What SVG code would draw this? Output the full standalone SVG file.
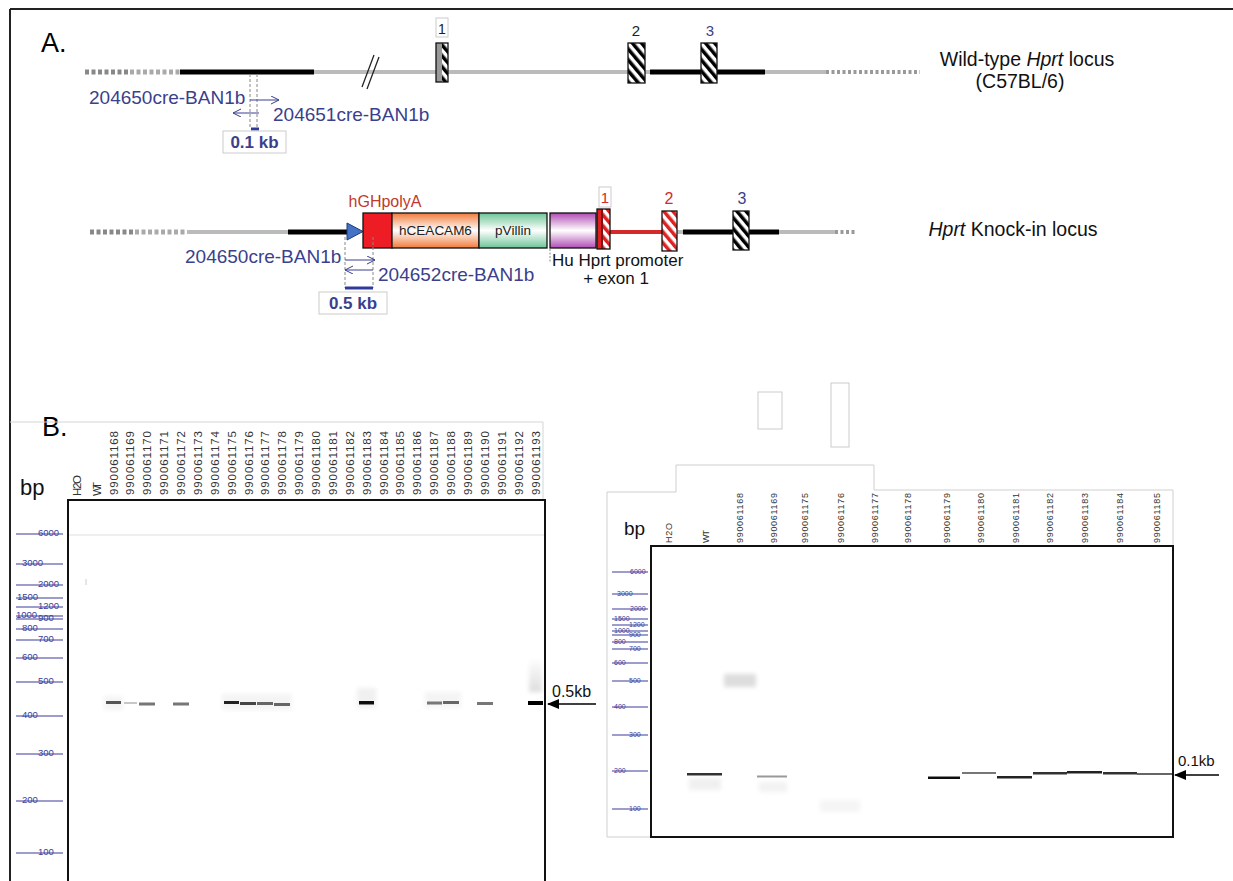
<svg xmlns="http://www.w3.org/2000/svg" width="1233" height="881" viewBox="0 0 1233 881">
<defs>
<style>
text{font-family:"Liberation Sans",Arial,sans-serif}
.navy{fill:#3b3f8c}
.primer{font-size:19px;fill:#3b3f8c}
.kb{font-size:17px;font-weight:bold;fill:#3b3f8c}
.lad{stroke:#3a3d9a;stroke-width:1.2}
.ladt{font-size:9.5px;fill:#3a3d9a}
.ladr{font-size:7px;fill:#3a3d9a}
.lane{font-size:11.5px;fill:#333}
.laner{font-size:9px;fill:#333}
.pa{stroke:#3b3f8c;stroke-width:1;fill:none}
.vd{stroke:#888;stroke-width:1;stroke-dasharray:3,2;fill:none}
.bx{stroke:#111;stroke-width:1.3}
.lblbox{fill:#fff;stroke:#ccc;stroke-width:1}
</style>
<pattern id="hk" width="7" height="7" patternUnits="userSpaceOnUse" patternTransform="rotate(-40)"><rect width="7" height="7" fill="#fff"/><rect width="3.5" height="7" fill="#000"/></pattern>
<pattern id="hr" width="7" height="7" patternUnits="userSpaceOnUse" patternTransform="rotate(-40)"><rect width="7" height="7" fill="#fff"/><rect width="3.5" height="7" fill="#e02020"/></pattern>
<linearGradient id="gO" x1="0" y1="0" x2="0" y2="1"><stop offset="0" stop-color="#f07a3a"/><stop offset="0.5" stop-color="#fff"/><stop offset="1" stop-color="#f07a3a"/></linearGradient>
<linearGradient id="gG" x1="0" y1="0" x2="0" y2="1"><stop offset="0" stop-color="#6cc496"/><stop offset="0.5" stop-color="#fff"/><stop offset="1" stop-color="#6cc496"/></linearGradient>
<linearGradient id="gP" x1="0" y1="0" x2="0" y2="1"><stop offset="0" stop-color="#b04cb4"/><stop offset="0.5" stop-color="#fff"/><stop offset="1" stop-color="#b04cb4"/></linearGradient>
<linearGradient id="gS" x1="0" y1="0" x2="0" y2="1"><stop offset="0" stop-color="#fff"/><stop offset="1" stop-color="#ddd"/></linearGradient>
<filter id="bl" x="-20%" y="-100%" width="140%" height="300%"><feGaussianBlur stdDeviation="0.6"/></filter>
<filter id="bl2" x="-30%" y="-50%" width="160%" height="200%"><feGaussianBlur stdDeviation="2"/></filter>
<marker id="ch" markerWidth="9" markerHeight="9" refX="8" refY="4" orient="auto" markerUnits="userSpaceOnUse"><path d="M0,0 L8,4 L0,8" fill="none" stroke="#3b3f8c" stroke-width="1"/></marker>
<marker id="tri" markerWidth="13" markerHeight="10" refX="11" refY="5" orient="auto" markerUnits="userSpaceOnUse"><path d="M0,0 L12,5 L0,10 Z" fill="#000"/></marker>
</defs>
<rect width="1233" height="881" fill="#fff"/>
<g id="frame" fill="none">
<line x1="10" y1="9" x2="1233" y2="9" stroke="#222" stroke-width="2"/>
<line x1="10" y1="9" x2="10" y2="881" stroke="#222" stroke-width="2"/>
</g>
<text x="41" y="52" font-size="27">A.</text>

<!-- Wild-type locus -->
<g id="wt-locus">
<line x1="85" y1="72" x2="130" y2="72" stroke="#888" stroke-width="5" stroke-dasharray="4,2.5"/>
<line x1="130" y1="72" x2="180" y2="72" stroke="#aaa" stroke-width="5" stroke-dasharray="4,2.5"/>
<line x1="314" y1="72" x2="826" y2="72" stroke="#bbb" stroke-width="4"/>
<line x1="826" y1="72" x2="920" y2="72" stroke="#999" stroke-width="4" stroke-dasharray="3,2.5"/>
<line x1="180" y1="72" x2="314" y2="72" stroke="#000" stroke-width="5"/>
<line x1="650" y1="72" x2="765" y2="72" stroke="#000" stroke-width="5"/>
<line x1="362" y1="87" x2="374" y2="55" stroke="#222" stroke-width="1.3"/>
<line x1="367" y1="89" x2="379" y2="57" stroke="#222" stroke-width="1.3"/>
</g>
<g id="wt-exon1">
<rect class="lblbox" x="436" y="18" width="12" height="19"/>
<text x="442" y="34" font-size="14" text-anchor="middle" fill="#222">1</text>
<rect x="442" y="43" width="6" height="39" fill="url(#hk)"/>
<rect x="436" y="43" width="6" height="39" fill="#999"/>
<rect class="bx" x="436" y="43" width="12" height="39" fill="none"/>
</g>
<g id="wt-exon2">
<text x="636" y="36" font-size="15" text-anchor="middle" fill="#222">2</text>
<rect class="bx" x="628" y="43" width="17" height="40" fill="url(#hk)"/>
</g>
<g id="wt-exon3">
<text x="710" y="36" font-size="15" text-anchor="middle" fill="#3b3f8c">3</text>
<rect class="bx" x="701" y="43" width="16" height="40" fill="url(#hk)"/>
</g>
<g id="wt-primers">
<line class="vd" x1="250" y1="74" x2="250" y2="128"/>
<line class="vd" x1="257" y1="74" x2="257" y2="128"/>
<line class="pa" x1="250" y1="100" x2="279" y2="100" marker-end="url(#ch)"/>
<line class="pa" x1="259" y1="113" x2="233" y2="113" marker-end="url(#ch)"/>
<text class="primer" x="89" y="104">204650cre-BAN1b</text>
<text class="primer" x="273" y="121">204651cre-BAN1b</text>
<line x1="251" y1="129" x2="259" y2="129" stroke="#2f3a9a" stroke-width="3"/>
<rect class="lblbox" x="223" y="131" width="63" height="22"/>
<text class="kb" x="254.5" y="148" text-anchor="middle" font-size="16">0.1 kb</text>
</g>
<g id="wt-title" font-size="19.5" fill="#111">
<text x="1027" y="66" text-anchor="middle">Wild-type <tspan font-style="italic">Hprt</tspan> locus</text>
<text x="1020" y="88" text-anchor="middle">(C57BL/6)</text>
</g>

<!-- Knock-in locus -->
<g id="ki-locus">
<line x1="90" y1="232" x2="135" y2="232" stroke="#888" stroke-width="5" stroke-dasharray="4,2.5"/>
<line x1="135" y1="232" x2="187" y2="232" stroke="#aaa" stroke-width="5" stroke-dasharray="4,2.5"/>
<line x1="187" y1="232" x2="288" y2="232" stroke="#bbb" stroke-width="4"/>
<line x1="288" y1="232" x2="348" y2="232" stroke="#000" stroke-width="5"/>
<line x1="610" y1="232" x2="662" y2="232" stroke="#d42a2a" stroke-width="4"/>
<line x1="677" y1="232" x2="683" y2="232" stroke="#bbb" stroke-width="4"/>
<line x1="683" y1="232" x2="779" y2="232" stroke="#000" stroke-width="5"/>
<line x1="779" y1="232" x2="835" y2="232" stroke="#bbb" stroke-width="4"/>
<line x1="835" y1="232" x2="857" y2="232" stroke="#999" stroke-width="4" stroke-dasharray="3,2.5"/>
</g>
<g id="ki-loxp"><path d="M347,223 L363,231.5 L347,240 Z" fill="#4472c4" stroke="#1f3a7a" stroke-width="1"/></g>
<g id="ki-hgh">
<text x="385" y="207" font-size="16" text-anchor="middle" fill="#c0392b">hGHpolyA</text>
<rect class="bx" x="363" y="213" width="29" height="35" fill="#ee1c25"/>
</g>
<g id="ki-ceacam">
<rect class="bx" x="392" y="213" width="87" height="35" fill="url(#gO)"/>
<text x="435.5" y="235" font-size="13.5" text-anchor="middle" fill="#222">hCEACAM6</text>
</g>
<g id="ki-villin">
<rect class="bx" x="479" y="213" width="68" height="35" fill="url(#gG)"/>
<text x="513" y="235" font-size="13.5" text-anchor="middle" fill="#222">pVillin</text>
</g>
<g id="ki-huprom">
<rect class="bx" x="550" y="213" width="46" height="35" fill="url(#gP)"/>
<line x1="550" y1="249" x2="550" y2="262" stroke="#888" stroke-width="1" stroke-dasharray="2,1.5"/>
<text x="552" y="266" font-size="17" fill="#111">Hu Hprt promoter</text>
<text x="616" y="284" font-size="17" text-anchor="middle" fill="#111">+ exon 1</text>
</g>
<g id="ki-exon1">
<rect class="lblbox" x="599" y="187" width="12" height="20" stroke="#ddd"/>
<text x="605" y="203" font-size="15" text-anchor="middle" fill="#d42a2a">1</text>
<rect x="603" y="209" width="7" height="40" fill="url(#hr)"/>
<rect x="597" y="209" width="6" height="40" fill="#e02020"/>
<line x1="602" y1="209" x2="602" y2="249" stroke="#111" stroke-width="1"/>
<rect class="bx" x="597" y="209" width="13" height="40" fill="none"/>
</g>
<g id="ki-exon2">
<text x="669" y="204" font-size="16" text-anchor="middle" fill="#d42a2a">2</text>
<rect class="bx" x="662" y="211" width="15" height="40" fill="url(#hr)"/>
</g>
<g id="ki-exon3">
<text x="742" y="204" font-size="16" text-anchor="middle" fill="#3b3f8c">3</text>
<rect class="bx" x="733" y="211" width="16" height="39" fill="url(#hk)"/>
</g>
<g id="ki-primers">
<line class="vd" x1="345" y1="237" x2="345" y2="288"/>
<line class="vd" x1="373" y1="237" x2="373" y2="288"/>
<line class="pa" x1="345" y1="260" x2="375" y2="260" marker-end="url(#ch)"/>
<line class="pa" x1="373" y1="270" x2="345" y2="270" marker-end="url(#ch)"/>
<text class="primer" x="185" y="263">204650cre-BAN1b</text>
<text class="primer" x="378" y="281">204652cre-BAN1b</text>
<line x1="345" y1="288" x2="373" y2="288" stroke="#2f3a9a" stroke-width="3"/>
<rect class="lblbox" x="319" y="292" width="68" height="22"/>
<text class="kb" x="353" y="309" text-anchor="middle">0.5 kb</text>
</g>
<g id="ki-title" font-size="19.5" fill="#111">
<text x="1013" y="236" text-anchor="middle"><tspan font-style="italic">Hprt</tspan> Knock-in locus</text>
</g>

<!-- Panel B -->
<text x="42" y="436" font-size="27">B.</text>
<g id="gel-left">
<polyline points="10,422 543,422 543,500" fill="none" stroke="#d5d5d5" stroke-width="1"/>
<text x="20" y="495" font-size="22" fill="#111">bp</text>
<g class="lane">
<text transform="translate(81,496) rotate(-90)" textLength="21">H2O</text>
<text transform="translate(101,496) rotate(-90)" textLength="14">WT</text>
<text transform="translate(117.5,495) rotate(-90)" textLength="64">990061168</text>
<text transform="translate(134.3,495) rotate(-90)" textLength="64">990061169</text>
<text transform="translate(151.2,495) rotate(-90)" textLength="64">990061170</text>
<text transform="translate(168.1,495) rotate(-90)" textLength="64">990061171</text>
<text transform="translate(185,495) rotate(-90)" textLength="64">990061172</text>
<text transform="translate(201.9,495) rotate(-90)" textLength="64">990061173</text>
<text transform="translate(218.7,495) rotate(-90)" textLength="64">990061174</text>
<text transform="translate(235.6,495) rotate(-90)" textLength="64">990061175</text>
<text transform="translate(252.5,495) rotate(-90)" textLength="64">990061176</text>
<text transform="translate(269.4,495) rotate(-90)" textLength="64">990061177</text>
<text transform="translate(286.3,495) rotate(-90)" textLength="64">990061178</text>
<text transform="translate(303.1,495) rotate(-90)" textLength="64">990061179</text>
<text transform="translate(320,495) rotate(-90)" textLength="64">990061180</text>
<text transform="translate(336.9,495) rotate(-90)" textLength="64">990061181</text>
<text transform="translate(353.8,495) rotate(-90)" textLength="64">990061182</text>
<text transform="translate(370.7,495) rotate(-90)" textLength="64">990061183</text>
<text transform="translate(387.5,495) rotate(-90)" textLength="64">990061184</text>
<text transform="translate(404.4,495) rotate(-90)" textLength="64">990061185</text>
<text transform="translate(421.3,495) rotate(-90)" textLength="64">990061186</text>
<text transform="translate(438.2,495) rotate(-90)" textLength="64">990061187</text>
<text transform="translate(455.1,495) rotate(-90)" textLength="64">990061188</text>
<text transform="translate(471.9,495) rotate(-90)" textLength="64">990061189</text>
<text transform="translate(488.8,495) rotate(-90)" textLength="64">990061190</text>
<text transform="translate(505.7,495) rotate(-90)" textLength="64">990061191</text>
<text transform="translate(522.6,495) rotate(-90)" textLength="64">990061192</text>
<text transform="translate(539.5,495) rotate(-90)" textLength="64">990061193</text>
</g>
<g id="ladder-left">
<line class="lad" x1="16" y1="534" x2="63" y2="534"/><text class="ladt" x="38" y="536">6000</text>
<line class="lad" x1="16" y1="564" x2="63" y2="564"/><text class="ladt" x="22" y="566">3000</text>
<line class="lad" x1="16" y1="585" x2="63" y2="585"/><text class="ladt" x="38" y="587">2000</text>
<line class="lad" x1="16" y1="598" x2="63" y2="598"/><text class="ladt" x="17" y="600">1500</text>
<line class="lad" x1="16" y1="607" x2="63" y2="607"/><text class="ladt" x="38" y="609">1200</text>
<line class="lad" x1="16" y1="616" x2="63" y2="616"/><text class="ladt" x="16" y="618">1000</text>
<line class="lad" x1="16" y1="619" x2="63" y2="619"/><text class="ladt" x="38" y="621">900</text>
<line class="lad" x1="16" y1="629" x2="63" y2="629"/><text class="ladt" x="22" y="631">800</text>
<line class="lad" x1="16" y1="640" x2="63" y2="640"/><text class="ladt" x="38" y="642">700</text>
<line class="lad" x1="16" y1="658" x2="63" y2="658"/><text class="ladt" x="22" y="660">600</text>
<line class="lad" x1="16" y1="682" x2="63" y2="682"/><text class="ladt" x="38" y="684">500</text>
<line class="lad" x1="16" y1="716" x2="63" y2="716"/><text class="ladt" x="22" y="718">400</text>
<line class="lad" x1="16" y1="754" x2="63" y2="754"/><text class="ladt" x="38" y="756">300</text>
<line class="lad" x1="16" y1="801" x2="63" y2="801"/><text class="ladt" x="22" y="803">200</text>
<line class="lad" x1="16" y1="853" x2="63" y2="853"/><text class="ladt" x="38" y="855">100</text>
</g>
<line x1="69" y1="535" x2="544" y2="535" stroke="#efefef" stroke-width="2"/>
<line x1="86" y1="579" x2="86" y2="585" stroke="#ccc" stroke-width="1"/>
<g id="bands-left">
<rect x="529" y="658" width="13" height="34" fill="url(#gS)" filter="url(#bl2)"/>
<rect x="104" y="696" width="19" height="14" fill="#f4f4f4" filter="url(#bl2)"/>
<rect x="222" y="694" width="70" height="16" fill="#f4f4f4" filter="url(#bl2)"/>
<rect x="357" y="688" width="19" height="20" fill="#f0f0f0" filter="url(#bl2)"/>
<rect x="425" y="692" width="36" height="16" fill="#f4f4f4" filter="url(#bl2)"/>
<g filter="url(#bl)">
<rect x="106" y="701" width="15" height="3" fill="#555"/>
<rect x="124" y="702" width="13" height="2" fill="#c8c8c8"/>
<rect x="139" y="702.5" width="16" height="3" fill="#777"/>
<rect x="173" y="702.5" width="16" height="3" fill="#777"/>
<rect x="224" y="701" width="15" height="3" fill="#222"/>
<rect x="240" y="702" width="16" height="3" fill="#444"/>
<rect x="257" y="702" width="16" height="3" fill="#666"/>
<rect x="274" y="703" width="16" height="3" fill="#666"/>
<rect x="359" y="701" width="15" height="3.5" fill="#111"/>
<rect x="427" y="701.5" width="15" height="3" fill="#777"/>
<rect x="443" y="701" width="16" height="3" fill="#666"/>
<rect x="477" y="702" width="16" height="3" fill="#777"/>
<rect x="528" y="701" width="15" height="4" fill="#000"/>
</g>
</g>
<rect x="68" y="500" width="477" height="390" fill="none" stroke="#111" stroke-width="2"/>
<g id="arrow-05">
<text x="552" y="697" font-size="16" fill="#111">0.5kb</text>
<line x1="596" y1="704" x2="548" y2="704" stroke="#000" stroke-width="1.5" marker-end="url(#tri)"/>
</g>
</g>

<g id="gel-right">
<rect x="758" y="392" width="24" height="37" fill="none" stroke="#ccc" stroke-width="1"/>
<rect x="831" y="383" width="18" height="64" fill="none" stroke="#ccc" stroke-width="1"/>
<polyline points="651,837 607,837 607,492 676,492 676,465 874,465 874,490 1173,490 1173,546" fill="none" stroke="#cfcfcf" stroke-width="1"/>
<text x="624" y="535" font-size="19" fill="#111">bp</text>
<g class="laner">
<text transform="translate(672,543) rotate(-90)" textLength="20">H2O</text>
<text transform="translate(709,543) rotate(-90)" textLength="13">WT</text>
<text transform="translate(743,543) rotate(-90)" textLength="50">990061168</text>
<text transform="translate(777,543) rotate(-90)" textLength="50">990061169</text>
<text transform="translate(808,543) rotate(-90)" textLength="50">990061175</text>
<text transform="translate(844,543) rotate(-90)" textLength="50">990061176</text>
<text transform="translate(878,543) rotate(-90)" textLength="50">990061177</text>
<text transform="translate(911,543) rotate(-90)" textLength="50">990061178</text>
<text transform="translate(950,543) rotate(-90)" textLength="50">990061179</text>
<text transform="translate(984,543) rotate(-90)" textLength="50">990061180</text>
<text transform="translate(1019,543) rotate(-90)" textLength="50">990061181</text>
<text transform="translate(1053,543) rotate(-90)" textLength="50">990061182</text>
<text transform="translate(1088,543) rotate(-90)" textLength="50">990061183</text>
<text transform="translate(1123,543) rotate(-90)" textLength="50">990061184</text>
<text transform="translate(1160,543) rotate(-90)" textLength="50">990061185</text>
</g>
<g id="ladder-right">
<line class="lad" x1="612" y1="572" x2="648" y2="572"/><text class="ladr" x="630" y="573.5">6000</text>
<line class="lad" x1="612" y1="594" x2="648" y2="594"/><text class="ladr" x="617" y="595.5">3000</text>
<line class="lad" x1="612" y1="609" x2="648" y2="609"/><text class="ladr" x="630" y="610.5">2000</text>
<line class="lad" x1="612" y1="619" x2="648" y2="619"/><text class="ladr" x="614" y="620.5">1500</text>
<line class="lad" x1="612" y1="625" x2="648" y2="625"/><text class="ladr" x="629" y="626.5">1200</text>
<line class="lad" x1="612" y1="631" x2="648" y2="631"/><text class="ladr" x="614" y="632.5">1000</text>
<line class="lad" x1="612" y1="635" x2="648" y2="635"/><text class="ladr" x="629" y="636.5">900</text>
<line class="lad" x1="612" y1="642" x2="648" y2="642"/><text class="ladr" x="614" y="643.5">800</text>
<line class="lad" x1="612" y1="649" x2="648" y2="649"/><text class="ladr" x="629" y="650.5">700</text>
<line class="lad" x1="612" y1="663" x2="648" y2="663"/><text class="ladr" x="614" y="664.5">600</text>
<line class="lad" x1="612" y1="681" x2="648" y2="681"/><text class="ladr" x="629" y="682.5">500</text>
<line class="lad" x1="612" y1="707" x2="648" y2="707"/><text class="ladr" x="614" y="708.5">400</text>
<line class="lad" x1="612" y1="735" x2="648" y2="735"/><text class="ladr" x="629" y="736.5">300</text>
<line class="lad" x1="612" y1="771" x2="648" y2="771"/><text class="ladr" x="614" y="772.5">200</text>
<line class="lad" x1="612" y1="809" x2="648" y2="809"/><text class="ladr" x="629" y="810.5">100</text>
</g>
<g id="bands-right">
<rect x="724" y="674" width="32" height="13" fill="#ddd" filter="url(#bl2)"/>
<rect x="689" y="778" width="32" height="12" fill="#f0f0f0" filter="url(#bl2)"/>
<rect x="759" y="782" width="28" height="10" fill="#f2f2f2" filter="url(#bl2)"/>
<rect x="820" y="800" width="40" height="12" fill="#f5f5f5" filter="url(#bl2)"/>
<g filter="url(#bl)">
<rect x="687" y="773" width="35" height="2.5" fill="#333"/>
<rect x="757" y="775.5" width="30" height="2" fill="#999"/>
<rect x="928" y="776.5" width="32" height="2.5" fill="#111"/>
<rect x="962" y="772" width="34" height="2" fill="#777"/>
<rect x="997" y="776" width="35" height="2.5" fill="#222"/>
<rect x="1033" y="772" width="34" height="2.5" fill="#333"/>
<rect x="1067" y="771" width="35" height="2.5" fill="#222"/>
<rect x="1103" y="772" width="34" height="2.5" fill="#333"/>
<rect x="1137" y="773" width="36" height="2" fill="#666"/>
</g>
</g>
<rect x="651" y="546" width="522" height="291" fill="none" stroke="#111" stroke-width="2"/>
<g id="arrow-01">
<text x="1178" y="766" font-size="15" fill="#111">0.1kb</text>
<line x1="1219" y1="775" x2="1175" y2="775" stroke="#000" stroke-width="1.5" marker-end="url(#tri)"/>
</g>
</g>
</svg>
